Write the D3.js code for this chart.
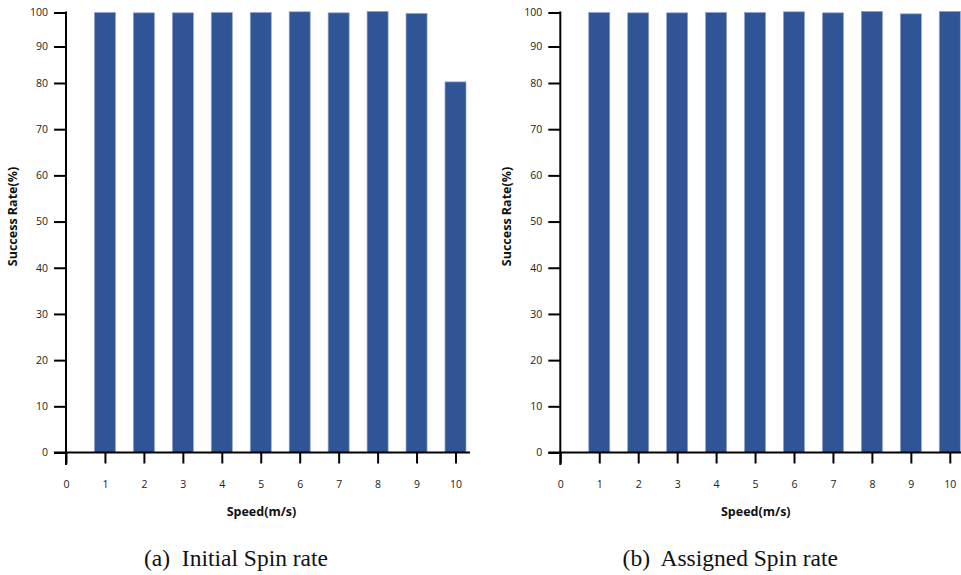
<!DOCTYPE html>
<html>
<head>
<meta charset="utf-8">
<script src="https://cdn.jsdelivr.net/npm/d3@7"></script>
<style>
  html, body { margin: 0; padding: 0; background: #fff; }
  svg { display: block; }
</style>
</head>
<body>
<svg id="chart" width="961" height="575"></svg>
<script>
// Success rate (%) per speed for each spin-rate setting
const speeds = [1, 2, 3, 4, 5, 6, 7, 8, 9, 10];
const initialSpin = [100, 99.9, 99.9, 100, 100, 100.2, 99.9, 100.3, 99.7, 80.3];
const assignedSpin = [100, 99.9, 99.9, 100, 100, 100.2, 99.9, 100.3, 99.6, 100.3];
const xTicks = [0, 1, 2, 3, 4, 5, 6, 7, 8, 9, 10];
const yTicks = [0, 10, 20, 30, 40, 50, 60, 70, 80, 90, 100];
const captions = ["(a)  Initial Spin rate", "(b)  Assigned Spin rate"];

const svg = d3.select("#chart");
const BAR = "#2f5597";
const labelFont = "'Open Sans', sans-serif";

function panel(values, ox, caption, axisRight) {
  const g = svg.append("g").attr("transform", `translate(${ox},0)`);
  const x0 = 66;
  const x = d3.scaleLinear().domain([0, 10]).range([x0, x0 + 389.5]);
  // the value axis is compressed above 80
  const y = d3.scaleLinear().domain([0, 80, 90, 100]).range([452.5, 83, 46.5, 12.5]);

  // bars
  g.selectAll("rect.bar").data(values).enter().append("rect")
    .attr("class", "bar")
    .attr("x", (d, i) => x(speeds[i]) - 10.5)
    .attr("width", 21)
    .attr("y", d => y(d))
    .attr("height", d => y(0) - y(d))
    .attr("fill", BAR)
    .attr("stroke", "#8fa3c8")
    .attr("stroke-width", 0.7);

  // y axis
  const ya = g.append("g").attr("transform", `translate(${x0},0)`)
    .call(d3.axisLeft(y).tickValues(yTicks).tickSize(12).tickPadding(6).tickFormat(d3.format("d")));
  ya.select(".domain").remove();
  ya.selectAll(".tick line").attr("stroke", "#000").attr("stroke-width", 2);
  ya.selectAll(".tick text").attr("font-family", labelFont).attr("font-size", 10.5).attr("fill", "#222");
  g.append("line").attr("x1", x0).attr("x2", x0).attr("y1", 11.5).attr("y2", 465)
    .attr("stroke", "#000").attr("stroke-width", 2);

  // x axis
  const xa = g.append("g").attr("transform", `translate(0,${y(0)})`)
    .call(d3.axisBottom(x).tickValues(xTicks).tickSize(11).tickPadding(17).tickFormat(d3.format("d")));
  xa.select(".domain").remove();
  xa.selectAll(".tick line").attr("stroke", "#000").attr("stroke-width", 2);
  xa.selectAll(".tick text").attr("font-family", labelFont).attr("font-size", 10.5).attr("fill", "#222");
  g.append("line").attr("x1", 54).attr("x2", axisRight).attr("y1", y(0)).attr("y2", y(0))
    .attr("stroke", "#000").attr("stroke-width", 2);

  // axis titles
  g.append("text")
    .attr("transform", "translate(16.5,216.5) rotate(-90)")
    .attr("text-anchor", "middle")
    .attr("font-family", labelFont).attr("font-weight", "bold").attr("font-size", 12.5)
    .attr("fill", "#111")
    .text("Success Rate(%)");
  g.append("text")
    .attr("x", 261.5).attr("y", 516)
    .attr("text-anchor", "middle")
    .attr("font-family", labelFont).attr("font-weight", "bold").attr("font-size", 12.5)
    .attr("fill", "#111")
    .text("Speed(m/s)");

  // caption
  g.append("text")
    .attr("x", caption.cx).attr("y", 566)
    .attr("text-anchor", "middle")
    .style("white-space", "pre")
    .attr("font-family", "'Liberation Serif', 'Times New Roman', serif")
    .attr("font-size", 23.5)
    .attr("fill", "#111")
    .text(caption.text);
}

panel(initialSpin, 0, { text: captions[0], cx: 236 }, 470);
panel(assignedSpin, 494.3, { text: captions[1], cx: 236 }, 480);
</script>
</body>
</html>
